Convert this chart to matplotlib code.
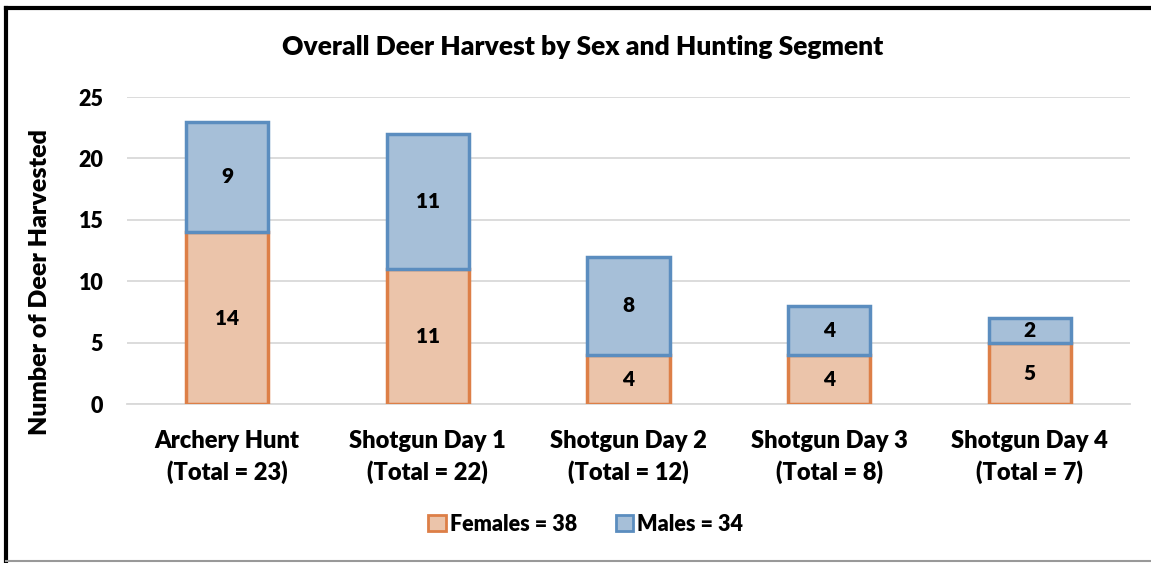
import numpy as np
import matplotlib.pyplot as plt
from matplotlib import font_manager as fm
from matplotlib.lines import Line2D
from matplotlib.patches import Patch

categories = ["Archery Hunt\n(Total = 23)", "Shotgun Day 1\n(Total = 22)",
              "Shotgun Day 2\n(Total = 12)", "Shotgun Day 3\n(Total = 8)",
              "Shotgun Day 4\n(Total = 7)"]
females = [14, 11, 4, 4, 5]
males = [9, 11, 8, 4, 2]

f_face, f_edge = "#EBC4AA", "#DD7F47"
m_face, m_edge = "#A6BFD8", "#5B8DBF"

# heavier Lato face reads closer to the bold of the original
heavy = [f.fname for f in fm.fontManager.ttflist
         if f.name == "Lato" and f.weight == 800 and f.style == "normal"]
if heavy:
    def fp(size):
        return fm.FontProperties(fname=heavy[0], size=size)
else:
    def fp(size):
        return fm.FontProperties(family="Lato", weight="bold", size=size)

fig = plt.figure(figsize=(11.51, 5.63), dpi=100)
ax = fig.add_axes([0.1103, 0.2824, 0.8714, 0.5453])

x = np.arange(len(categories))
w = 0.41
ax.bar(x, females, w, color=f_face, edgecolor=f_edge, linewidth=2.5, zorder=3)
ax.bar(x, males, w, bottom=females, color=m_face, edgecolor=m_edge, linewidth=2.5, zorder=3)

for i in range(len(x)):
    ax.text(x[i], females[i] / 2, str(females[i]), ha="center", va="center",
            fontproperties=fp(15), zorder=4)
    ax.text(x[i], females[i] + males[i] / 2, str(males[i]), ha="center", va="center",
            fontproperties=fp(15), zorder=4)

ax.set_xlim(-0.5, len(x) - 0.5)
ax.set_ylim(0, 25)
ax.set_yticks([0, 5, 10, 15, 20, 25])
ax.yaxis.grid(True, color="#D9D9D9", linewidth=1.3, zorder=0)
for s in ["top", "right", "left"]:
    ax.spines[s].set_visible(False)
ax.spines["bottom"].set_color("#D9D9D9")
ax.spines["bottom"].set_linewidth(1.3)
ax.tick_params(axis="both", length=0)
ax.tick_params(axis="y", pad=17)
ax.tick_params(axis="x", pad=19)
ax.set_xticks(x)
ax.set_xticklabels(categories, fontproperties=fp(17), linespacing=1.4)
ax.set_yticklabels([str(v) for v in [0, 5, 10, 15, 20, 25]], fontproperties=fp(15.5))
ax.set_ylabel("Number of Deer Harvested", fontproperties=fp(18))
ax.yaxis.set_label_coords(-0.0758, 0.397)

fig.text(0.506, 0.917, "Overall Deer Harvest by Sex and Hunting Segment",
         ha="center", va="center", fontproperties=fp(19))

handles = [Patch(facecolor=f_face, edgecolor=f_edge, linewidth=2),
           Patch(facecolor=m_face, edgecolor=m_edge, linewidth=2)]
fig.legend(handles, ["Females = 38", "Males = 34"], loc="center",
           bbox_to_anchor=(0.509, 0.069), ncol=2, frameon=False,
           prop=fp(15.5), handlelength=0.8,
           handleheight=0.8, handletextpad=0.2, columnspacing=1.8)

# frame lines
fig.add_artist(Line2D([0.005, 1.0], [0.986, 0.986], color="black", linewidth=3))
fig.add_artist(Line2D([0.0055, 0.0055], [0.0, 0.986], color="black", linewidth=3))
fig.add_artist(Line2D([0.005, 1.0], [0.003, 0.003], color="#999999", linewidth=1.5))

fig.savefig("out.png", dpi=100)
